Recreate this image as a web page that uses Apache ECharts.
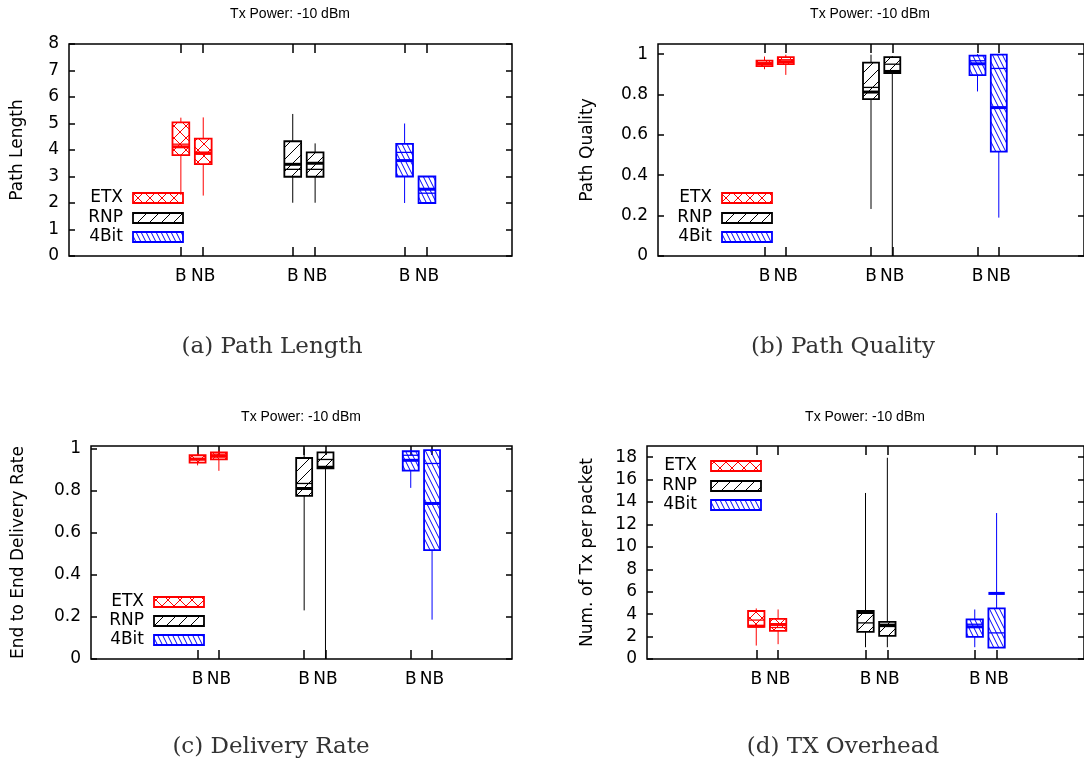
<!DOCTYPE html>
<html><head><meta charset="utf-8">
<script src="https://cdn.jsdelivr.net/npm/echarts@6/dist/echarts.min.js"></script>
<style>html,body{margin:0;padding:0;background:#fff}#c{width:1084px;height:768px}</style>
</head><body><div id="c"></div>
<script>
// ---------------- DATA ----------------
const algorithms = ['ETX', 'RNP', '4Bit'];
const variants = ['B', 'NB'];
const panelTitle = 'Tx Power: -10 dBm';
const captions = ['(a) Path Length', '(b) Path Quality', '(c) Delivery Rate', '(d) TX Overhead'];
const yNames = ['Path Length', 'Path Quality', 'End to End Delivery Rate', 'Num. of Tx per packet'];
// rows: ETX-B, ETX-NB, RNP-B, RNP-NB, 4Bit-B, 4Bit-NB ; [min, q1, median, mean, q3, max]
const pathLength = [
  [2.30, 3.81, 4.22, 4.12, 5.04, 5.22],
  [2.28, 3.47, 3.92, 3.87, 4.43, 5.23],
  [2.01, 2.99, 3.27, 3.46, 4.33, 5.36],
  [2.01, 2.99, 3.27, 3.50, 3.91, 4.25],
  [2.00, 3.00, 3.91, 3.60, 4.23, 5.00],
  [2.00, 2.00, 2.37, 2.52, 3.00, 3.00]
];
const pathQuality = [
  [0.925, 0.940, 0.957, 0.952, 0.968, 0.988],
  [0.897, 0.950, 0.972, 0.962, 0.985, 0.997],
  [0.233, 0.777, 0.835, 0.812, 0.958, 0.997],
  [0.000, 0.906, 0.950, 0.914, 0.985, 0.990],
  [0.815, 0.896, 0.967, 0.952, 0.992, 1.000],
  [0.190, 0.517, 0.929, 0.735, 0.997, 0.997]
];
const deliveryRate = [
  [0.920, 0.933, 0.953, 0.949, 0.968, 0.979],
  [0.894, 0.948, 0.973, 0.963, 0.982, 0.992],
  [0.231, 0.775, 0.834, 0.810, 0.955, 1.000],
  [0.000, 0.906, 0.948, 0.911, 0.982, 0.990],
  [0.813, 0.895, 0.968, 0.944, 0.987, 0.995],
  [0.187, 0.517, 0.929, 0.739, 0.992, 0.992]
];
const txOverhead = [
  [1.20, 2.87, 3.47, 2.93, 4.28, 4.51],
  [1.32, 2.51, 2.81, 3.08, 3.58, 4.42],
  [1.05, 2.42, 3.22, 4.15, 4.30, 14.81],
  [1.05, 2.06, 2.90, 3.02, 3.31, 17.95],
  [1.05, 1.97, 3.10, 2.87, 3.53, 4.42],
  [1.02, 1.02, 2.33, 5.85, 4.51, 13.02]
];
const yTicksLength = [0, 1, 2, 3, 4, 5, 6, 7, 8];
const yTicksRatio = [0, 0.2, 0.4, 0.6, 0.8, 1];
const yTicksTx = [0, 2, 4, 6, 8, 10, 12, 14, 16, 18];

// ---------------- STYLE / LAYOUT ----------------
const FONT = 'DejaVu Sans';
const algColors = ['#ff0000', '#000000', '#0000ff'];
const algHatch = ['cross', 'slash', 'back'];
const NB_OFFSET = 0.2;
const BOX_W = 0.15;

const panels = [
  { data: pathLength, yMax: 8, yTicks: yTicksLength, xMax: 3.96,
    grid: { left: 69, top: 44, width: 443, height: 212 }, nameGap: 43,
    legend: { textRight: 123, rectX: 133, rectY: [193, 213, 232] },
    titleXY: [290, 14], captionXY: [272, 347] },
  { data: pathQuality, yMax: 1.05, yTicks: yTicksRatio, xMax: 4,
    grid: { left: 658, top: 44, width: 427, height: 212 }, nameGap: 62,
    legend: { textRight: 712, rectX: 722, rectY: [193, 213, 232] },
    titleXY: [870, 14], captionXY: [843, 347] },
  { data: deliveryRate, yMax: 1.012, yTicks: yTicksRatio, xMax: 3.95,
    grid: { left: 91, top: 446, width: 421, height: 213 }, nameGap: 64,
    legend: { textRight: 144, rectX: 154, rectY: [597, 616, 635] },
    titleXY: [301, 417], captionXY: [271, 747] },
  { data: txOverhead, yMax: 19, yTicks: yTicksTx, xMax: 4,
    grid: { left: 647, top: 446, width: 438, height: 213 }, nameGap: 51,
    legend: { textRight: 697, rectX: 711, rectY: [461, 481, 500] },
    titleXY: [865, 417], captionXY: [843, 747] }
];

function makeTile(kind, color) {
  const c = document.createElement('canvas');
  let w = 12, h = 12;
  if (kind === 'back') { w = 5; h = 10; }
  c.width = w; c.height = h;
  const ctx = c.getContext('2d');
  ctx.strokeStyle = color; ctx.lineWidth = 1;
  ctx.beginPath();
  for (const dx of [-w, 0, w]) {
    if (kind === 'cross') {
      ctx.moveTo(dx, 0); ctx.lineTo(dx + w, h);
      ctx.moveTo(dx + w, 0); ctx.lineTo(dx, h);
    } else if (kind === 'slash') {
      ctx.moveTo(dx, h); ctx.lineTo(dx + w, 0);
    } else {
      ctx.moveTo(dx, 0); ctx.lineTo(dx + w, h);
    }
  }
  ctx.stroke();
  return c;
}
const patterns = algHatch.map((k, i) => ({ image: makeTile(k, algColors[i]), repeat: 'repeat' }));

const positions = [];
algorithms.forEach((a, ai) => variants.forEach((v, vi) => positions.push(ai + 1 + vi * NB_OFFSET)));

function boxRenderer(ai) {
  const color = algColors[ai];
  return function (params, api) {
    const x = api.value(0);
    const mn = api.coord([x, api.value(1)]);
    const q1 = api.coord([x, api.value(2)]);
    const md = api.coord([x, api.value(3)]);
    const me = api.coord([x, api.value(4)]);
    const q3 = api.coord([x, api.value(5)]);
    const mx = api.coord([x, api.value(6)]);
    const hw = api.size([BOX_W, 0])[0] / 2;
    const cx = mn[0];
    return {
      type: 'group',
      children: [
        { type: 'line', shape: { x1: cx, y1: mn[1], x2: cx, y2: q1[1] }, style: { stroke: color, lineWidth: 1 } },
        { type: 'line', shape: { x1: cx, y1: q3[1], x2: cx, y2: mx[1] }, style: { stroke: color, lineWidth: 1 } },
        { type: 'rect', shape: { x: cx - hw, y: q3[1], width: 2 * hw, height: q1[1] - q3[1] },
          style: { fill: patterns[ai], stroke: color, lineWidth: 1.8 } },
        { type: 'line', shape: { x1: cx - hw, y1: md[1], x2: cx + hw, y2: md[1] }, style: { stroke: color, lineWidth: 1.3 } },
        { type: 'line', shape: { x1: cx - hw, y1: me[1], x2: cx + hw, y2: me[1] }, style: { stroke: color, lineWidth: 3 } }
      ]
    };
  };
}

const grids = [], xAxes = [], yAxes = [], series = [], graphics = [];
const tickStyle = { color: '#000', width: 1.5 };
panels.forEach((p, pi) => {
  grids.push(Object.assign({ show: true, borderColor: '#000', borderWidth: 1.5, containLabel: false }, p.grid));
  const xBase = {
    type: 'value', gridIndex: pi, min: 0, max: p.xMax, splitLine: { show: false },
    axisLine: { show: false, onZero: false },
    axisTick: { show: true, inside: true, length: 9, customValues: positions, lineStyle: tickStyle }
  };
  xAxes.push(Object.assign({}, xBase, { position: 'bottom',
    axisLabel: { show: true, customValues: positions, margin: 12, color: '#000', fontFamily: FONT, fontSize: 17,
      formatter: v => variants[Math.round((v - Math.floor(v + 1e-6)) / NB_OFFSET)] } }));
  xAxes.push(Object.assign({}, xBase, { position: 'top', axisLabel: { show: false } }));
  const yBase = {
    type: 'value', gridIndex: pi, min: 0, max: p.yMax, splitLine: { show: false },
    axisLine: { show: false, onZero: false },
    axisTick: { show: true, inside: true, length: 6, customValues: p.yTicks, lineStyle: tickStyle }
  };
  yAxes.push(Object.assign({}, yBase, { position: 'left',
    name: yNames[pi], nameLocation: 'middle', nameRotate: 90, nameGap: p.nameGap,
    nameTextStyle: { color: '#000', fontFamily: FONT, fontSize: 17 },
    axisLabel: { show: true, customValues: p.yTicks, margin: 10, color: '#000', fontFamily: FONT, fontSize: 17 } }));
  yAxes.push(Object.assign({}, yBase, { position: 'right', axisLabel: { show: false } }));

  algorithms.forEach((a, ai) => {
    series.push({
      type: 'custom', name: a, xAxisIndex: pi * 2, yAxisIndex: pi * 2, clip: false,
      encode: { x: 0, y: [1, 2, 3, 4, 5, 6] },
      renderItem: boxRenderer(ai),
      data: variants.map((v, vi) => [positions[ai * 2 + vi]].concat(p.data[ai * 2 + vi]))
    });
    graphics.push({ type: 'text', x: p.legend.textRight, y: p.legend.rectY[ai] + 5, z: 10,
      style: { text: a, fill: '#000', font: '17px "' + FONT + '"', textAlign: 'right', textVerticalAlign: 'middle' } });
    graphics.push({ type: 'rect', z: 10, shape: { x: p.legend.rectX, y: p.legend.rectY[ai], width: 50, height: 10 },
      style: { fill: patterns[ai], stroke: algColors[ai], lineWidth: 1.8 } });
  });
  graphics.push({ type: 'text', x: p.titleXY[0], y: p.titleXY[1],
    style: { text: panelTitle, fill: '#000', font: '14px "Liberation Sans"', textAlign: 'center', textVerticalAlign: 'middle' } });
  graphics.push({ type: 'text', x: p.captionXY[0], y: p.captionXY[1],
    style: { text: captions[pi], fill: '#333', font: '23px "DejaVu Serif"', textAlign: 'center', textVerticalAlign: 'middle' } });
});

const chart = echarts.init(document.getElementById('c'), null, { renderer: 'canvas' });
chart.setOption({
  animation: false,
  backgroundColor: '#fff',
  grid: grids, xAxis: xAxes, yAxis: yAxes, series: series, graphic: graphics
});
</script></body></html>
